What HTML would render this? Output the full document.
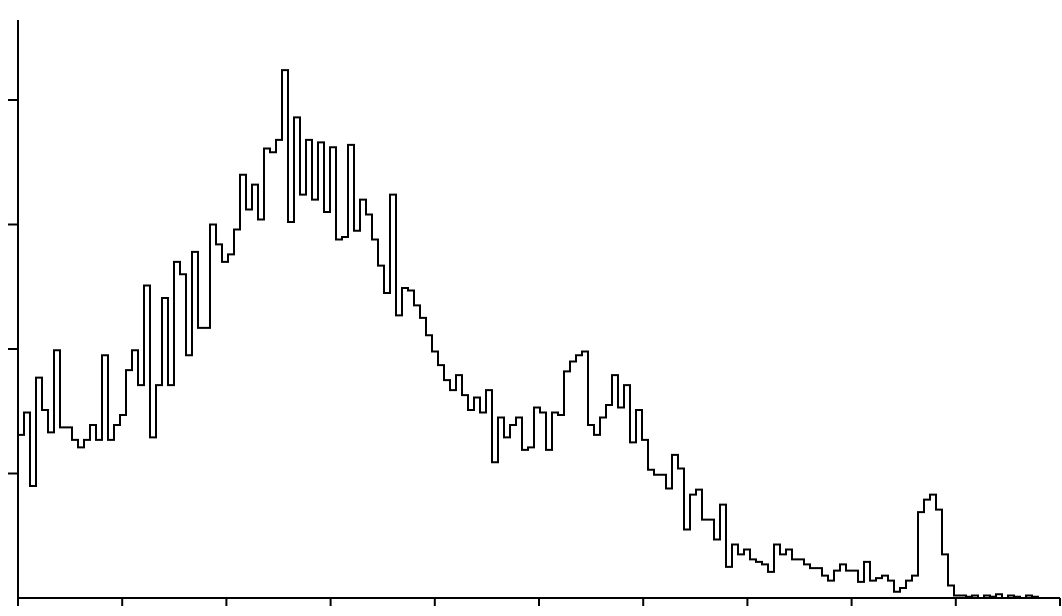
<!DOCTYPE html>
<html><head><meta charset="utf-8"><style>
html,body{margin:0;padding:0;background:#fff;}
svg{display:block;}
</style></head><body>
<svg id="chart" width="1062" height="616" viewBox="0 0 1062 616" xmlns="http://www.w3.org/2000/svg"></svg>
<script>
const counts = [131,149,90,177,151,133,199,137,137,127,
121,127,139,127,195,127,139,147,183,199,
171,251,129,171,241,171,270,260,195,278,
217,217,300,284,270,276,296,340,312,332,
304,361,358,368,424,302,386,324,368,320,
366,310,362,288,290,364,295,320,308,288,
267,245,324,227,249,247,235,225,211,198,
187,175,167,179,163,151,161,149,167,109,
145,129,139,145,119,121,153,149,119,149,
147,182,190,195,198,139,131,145,155,179,
153,171,125,151,127,103,99,99,88,115,
104,55,83,87,63,63,47,75,25,43,
35,39,31,29,27,21,43,35,39,31,
31,27,24,24,18,14,22,27,22,22,
13,29,14,16,18,14,5,8,14,18,
69,79,83,71,35,10,2,2,1,2,0,2,1,3,0,2,1,0,2,1,0,0,0,0];
const yTicks = [0,100,200,300,400];
const xTicks = [0,1,2,3,4,5,6,7,8,9,10];

const NS = "http://www.w3.org/2000/svg";
const svg = document.getElementById('chart');
const x0 = 18, x1 = 1060, y0 = 598;
const binW = 6;
const xBin = i => x0 + i * binW;
const yVal = v => y0 - v * 1.245;
const xTick = k => x0 + k * 104.2;

function mk(tag, attrs){ const e=document.createElementNS(NS,tag); for(const k in attrs) e.setAttribute(k,attrs[k]); svg.appendChild(e); return e; }

const ya = mk('line',{x1:x0,y1:20,x2:x0,y2:y0+2,stroke:'#000','stroke-width':2});


const xa = mk('line',{x1:x0-1,y1:y0,x2:x1,y2:y0,stroke:'#000','stroke-width':2});



yTicks.forEach(v=>{
  if(v===0) return;
  const t = mk('line',{x1:x0-10,y1:yVal(v),x2:x0,y2:yVal(v),stroke:'#000','stroke-width':2});
  
  
});
xTicks.forEach(k=>{
  const t = mk('line',{x1:xTick(k),y1:y0,x2:xTick(k),y2:y0+8,stroke:'#000','stroke-width':2});
  
  
});

let d = 'M'+x0+','+yVal(counts[0]);
counts.forEach((v,i)=>{
  const y = yVal(v);
  d += ' L'+xBin(i)+','+y+' L'+Math.min(xBin(i+1),x1)+','+y;
});
const p = mk('path',{d:d,fill:'none',stroke:'#000','stroke-width':2,'stroke-linejoin':'miter'});


</script>
</body></html>
